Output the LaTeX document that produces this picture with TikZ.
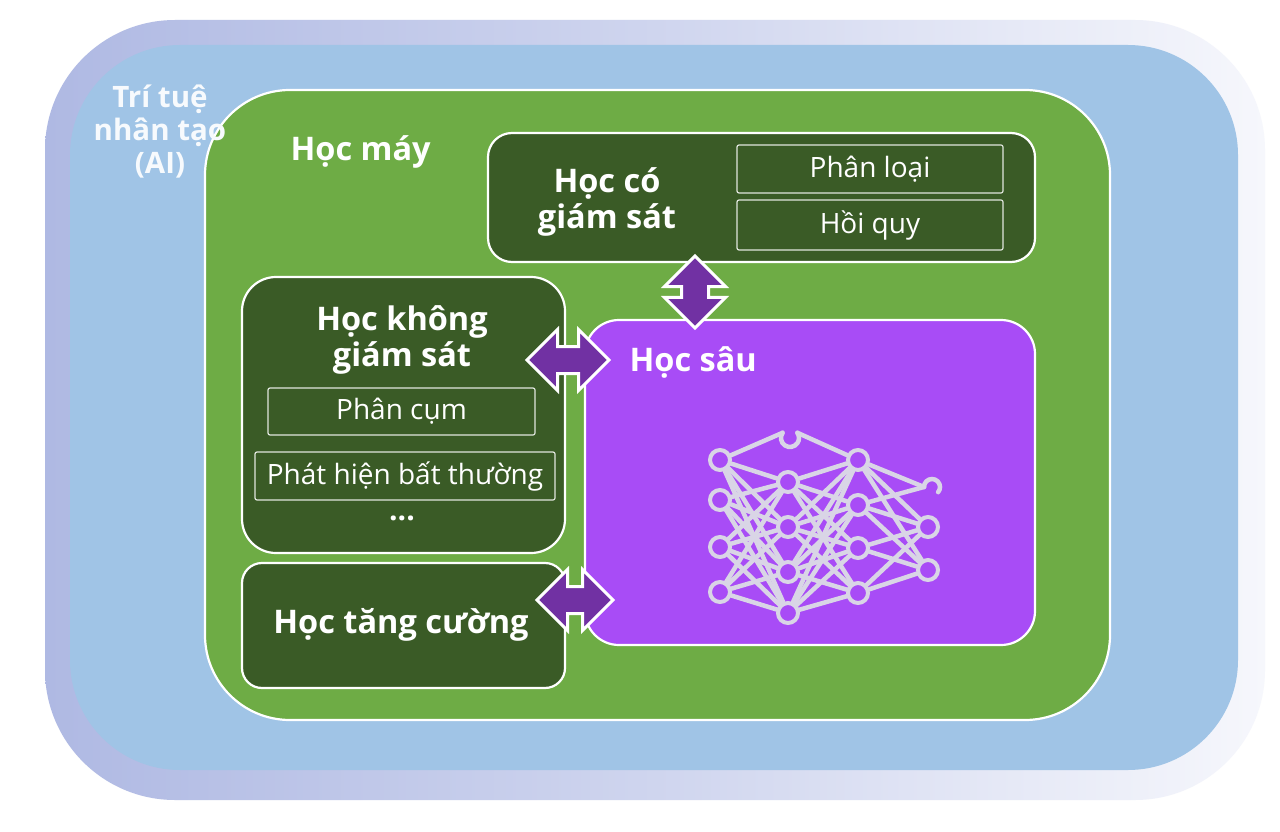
\documentclass[tikz,border=0pt]{standalone}
\usepackage{fontspec}
\setmainfont{Open Sans}
\usepackage{tikz}
\usetikzlibrary{positioning, shapes.arrows, shapes.geometric}

\definecolor{aiblue}{HTML}{A0C4E6}
\definecolor{mlgreen}{HTML}{6EAC45}
\definecolor{subgreen}{HTML}{3A5B26}
\definecolor{dlpurple}{HTML}{A84CF6}
\definecolor{arrowpurple}{HTML}{7131A3}
\definecolor{netgray}{HTML}{D9D5E6}
\definecolor{bandleft}{HTML}{AFB9E3}
\definecolor{bandright}{HTML}{F6F7FC}

\tikzset{
  panel/.style={draw=white, line width=2.2, inner sep=0},
  item/.style={draw=white!85!subgreen, line width=1.2, inner sep=0,
    rounded corners=2, minimum width=266, minimum height=48,
    font=\fontsize{28}{30}\selectfont, text=white},
  heading/.style={text=white, align=center,
    font=\fontsize{32.5}{36}\selectfont\bfseries},
  flow/.style={double arrow, fill=arrowpurple, draw=white, line width=3,
    inner sep=12, double arrow head extend=17},
  neuron/.style={circle, draw=netgray, fill=dlpurple, line width=4,
    minimum size=20, inner sep=0},
  synapse/.style={netgray, line width=4.5, line cap=round}
}

\begin{document}
\begin{tikzpicture}[x=1pt, y=-1pt]
  \useasboundingbox[fill=white] (0,0) rectangle (1280,832);
  \shade[left color=bandleft, right color=bandright, middle color=bandleft!55!bandright,
    rounded corners=130] (45,20) rectangle (1265,800);
  \fill[aiblue, rounded corners=110] (70,45) rectangle (1238,770);

  \node[panel, fill=mlgreen, rounded corners=85, minimum width=905,
    minimum height=630] (ml) at (657.5,405) {};
  \node[text=white!92!aiblue, align=center,
    font=\fontsize{29.5}{33}\selectfont\bfseries] (ai) at (160,132)
    {Trí tuệ\\nhân tạo\\(AI)};
  \node[heading, anchor=west] (mltext) at (287,152) {Học máy};

  \node[panel, fill=subgreen, rounded corners=24, minimum width=547,
    minimum height=129] (sup) at (761.5,197.5) {};
  \node[heading] (suptext) at (607,202) {Học có\\giám sát};
  \node[item] (cls) at (870,169) {Phân loại};
  \node[item, minimum height=50] (reg) at (870,225) {Hồi quy};

  \node[panel, fill=subgreen, rounded corners=34, minimum width=323,
    minimum height=276] (unsup) at (403.5,415) {};
  \node[heading] (unsuptext) at (402,340) {Học không\\giám sát};
  \node[item, minimum width=267, minimum height=47] (clu) at (401.5,411.5) {Phân cụm};
  \node[item, minimum width=300] (anom) at (405,476) {Phát hiện bất thường};
  \node[text=white, font=\fontsize{30}{30}\selectfont\bfseries] (more) at (402,518) {...};

  \node[panel, fill=subgreen, rounded corners=20, minimum width=323,
    minimum height=125] (rl) at (403.5,625.5) {};
  \node[heading] (rltext) at (401,625) {Học tăng cường};

  \node[panel, fill=dlpurple, rounded corners=34, minimum width=450,
    minimum height=325] (dl) at (810,482.5) {};
  \node[heading, anchor=west] (dltext) at (626,362) {Học sâu};

  \node[flow, shape border rotate=90, minimum height=72, minimum width=58]
    (a1) at (695,292) {};
  \node[flow, minimum height=82, minimum width=56] (a2) at (568,360) {};
  \node[flow, minimum height=76, minimum width=50] (a3) at (575,600) {};

  \foreach \y [count=\i] in {460,500,547,592}
    \node[neuron] (n1\i) at (720,\y) {};
  \foreach \y [count=\i] in {482,527,572,613}
    \node[neuron] (n2\i) at (788,\y) {};
  \foreach \y [count=\i] in {460,505,548,593}
    \node[neuron] (n3\i) at (858,\y) {};
  \foreach \y [count=\i] in {527,570}
    \node[neuron] (n4\i) at (928,\y) {};
  \coordinate (hookl) at (782.6,432.8);
  \coordinate (hookr) at (797.4,432.8);
  \coordinate (hookd) at (924,487);
  \draw[synapse] (hookl) arc (215:-35:9);
  \draw[synapse] (hookd) arc (180:400:8);

  \foreach \i in {1,...,4}
    \foreach \j in {1,...,4} {
      \draw[synapse] (n1\i) -- (n2\j);
      \draw[synapse] (n2\i) -- (n3\j);
    }
  \foreach \i in {1,...,4}
    \foreach \j in {1,2}
      \draw[synapse] (n3\i) -- (n4\j);
  \draw[synapse] (n11) -- (hookl);
  \draw[synapse] (hookr) -- (n31);
  \draw[synapse] (n31) -- (hookd);
  \draw[synapse] (n32) -- (hookd);
\end{tikzpicture}
\end{document}
